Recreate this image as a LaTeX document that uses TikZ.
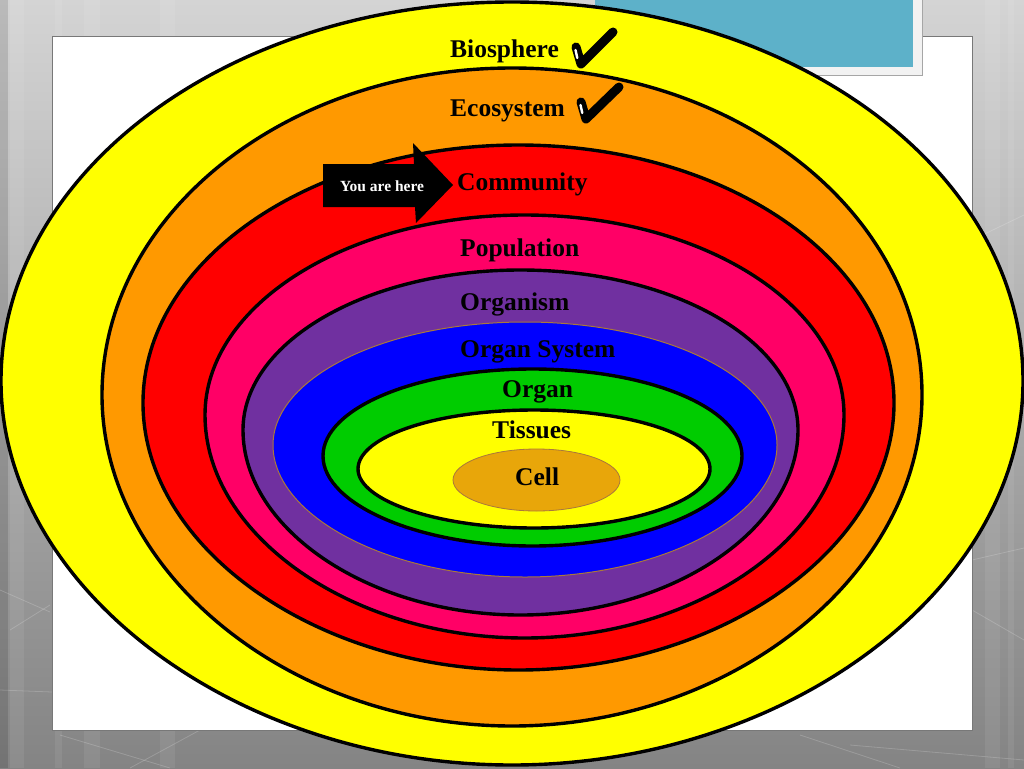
\documentclass[tikz,border=0pt]{standalone}
\usepackage{fontspec}
\setmainfont{Liberation Serif}
\definecolor{bgtop}{RGB}{212,212,212}
\definecolor{bgbot}{RGB}{132,132,132}
\definecolor{tealc}{RGB}{93,177,201}
\definecolor{framec}{RGB}{242,242,242}
\definecolor{yelc}{RGB}{255,255,0}
\definecolor{orgc}{RGB}{255,153,0}
\definecolor{redc}{RGB}{255,0,0}
\definecolor{pinkc}{RGB}{255,0,102}
\definecolor{purc}{RGB}{112,48,160}
\definecolor{bluec}{RGB}{0,0,255}
\definecolor{greenc}{RGB}{0,204,0}
\definecolor{cellc}{RGB}{232,166,10}
\definecolor{brownl}{RGB}{170,120,60}
\definecolor{slideedge}{RGB}{120,120,120}
% cx, wy, rx, ry top, ry bottom
\newcommand\eggpath[5]{(#1+#3,#2) .. controls (#1+#3,#2+0.54*#5) and (#1+0.54*#3,#2+#5) .. (#1,#2+#5) .. controls (#1-0.54*#3,#2+#5) and (#1-#3,#2+0.54*#5) .. (#1-#3,#2) .. controls (#1-#3,#2-0.5523*#4) and (#1-0.5523*#3,#2-#4) .. (#1,#2-#4) .. controls (#1+0.5523*#3,#2-#4) and (#1+#3,#2-0.5523*#4) .. (#1+#3,#2) -- cycle}
\begin{document}
\begin{tikzpicture}[x=1pt,y=-1pt,
  ring/.style={draw=black, line width=3.4pt},
  lbl/.style={font=\fontsize{25.5}{30}\selectfont\bfseries, inner sep=0pt, anchor=base west, text=black},
  chk/.style={line width=9pt, line cap=round, line join=round, draw=black},
  hl/.style={draw=white, line width=2.4pt, line cap=round},
  faint/.style={draw=white, opacity=0.18, line width=0.8pt},
  stripe/.style={fill=white, opacity=0.07}]
\useasboundingbox (0,0) rectangle (1024,768);
\clip (0,0) rectangle (1024,768);
% background
\shade[top color=bgtop, bottom color=bgbot] (0,0) rectangle (1024,768);
\fill[black, opacity=0.12] (0,0) rectangle (8,768);
\fill[stripe] (10,0) rectangle (24,768);
\fill[stripe] (55,0) rectangle (62,768);
\fill[stripe] (84,0) rectangle (100,768);
\fill[stripe] (160,0) rectangle (175,768);
\fill[stripe] (985,0) rectangle (1000,768);
\fill[stripe] (1008,0) rectangle (1014,768);
\draw[faint] (0,590) -- (50,612);
\draw[faint] (0,690) -- (52,692);
\draw[faint] (10,630) -- (50,605);
\draw[faint] (60,735) -- (170,768);
\draw[faint] (130,768) -- (200,730);
\draw[faint] (800,735) -- (900,768);
\draw[faint] (972,240) -- (1024,215);
\draw[faint] (972,560) -- (1024,548);
\draw[faint] (972,610) -- (1024,640);
\draw[faint] (850,745) -- (1024,760);
% slide
\fill[white] (52,37) rectangle (972,730);
\draw[slideedge, line width=1pt] (52,37) rectangle (972,730);
% teal box
\fill[framec] (595,-5) rectangle (922,75);
\draw[gray!70, line width=1pt] (922,-5) -- (922,75) -- (595,75);
\fill[tealc] (595,-5) rectangle (913,67);
% rings
\path[ring, fill=yelc] \eggpath{512}{381}{511}{379}{384};
\path[ring, fill=orgc] \eggpath{512}{395}{410}{327}{331};
\path[ring, fill=redc] \eggpath{518.5}{403}{375.5}{258}{267};
\path[ring, fill=pinkc] \eggpath{524.5}{415}{319.5}{200}{223};
\path[ring, fill=purc] \eggpath{520.5}{430}{277.5}{160}{185};
\path[fill=bluec, draw=brownl, line width=1pt] \eggpath{525}{445}{252}{123}{132};
\path[ring, fill=greenc] \eggpath{532.5}{456}{209.5}{87}{90};
\path[ring, fill=yelc] \eggpath{534}{469}{176}{59}{59};
\path[fill=cellc, draw=brownl, line width=0.8pt] (536.5,480) ellipse [x radius=83.5, y radius=31];
% labels
\node[lbl] (bio) at (450,57) {Biosphere};
\node[lbl] (eco) at (450,116) {Ecosystem};
\node[lbl] (com) at (457,190) {Community};
\node[lbl] (pop) at (460,256) {Population};
\node[lbl] (orgm) at (460,310) {Organism};
\node[lbl] (orgs) at (460,357) {Organ System};
\node[lbl] (orgn) at (502,397) {Organ};
\node[lbl] (tis) at (492,438) {Tissues};
\node[lbl] (cell) at (515,485) {Cell};
% arrow
\fill[black] (323,164) -- (414,164) -- (413,143) -- (453,185) -- (416,223) -- (415,207) -- (323,207) -- cycle;
\node[font=\fontsize{15.5}{18}\selectfont\bfseries, text=white, inner sep=0pt, anchor=base west] (here) at (340,191.5) {You are here};
% check marks
\draw[chk] (576,47) -- (581,64) -- (613,32);
\draw[hl] (575.5,50) -- (577.3,58);
\draw[chk] (581,102) -- (586,119) -- (619,87);
\draw[hl] (580.5,105) -- (582.3,113);
\end{tikzpicture}
\end{document}
